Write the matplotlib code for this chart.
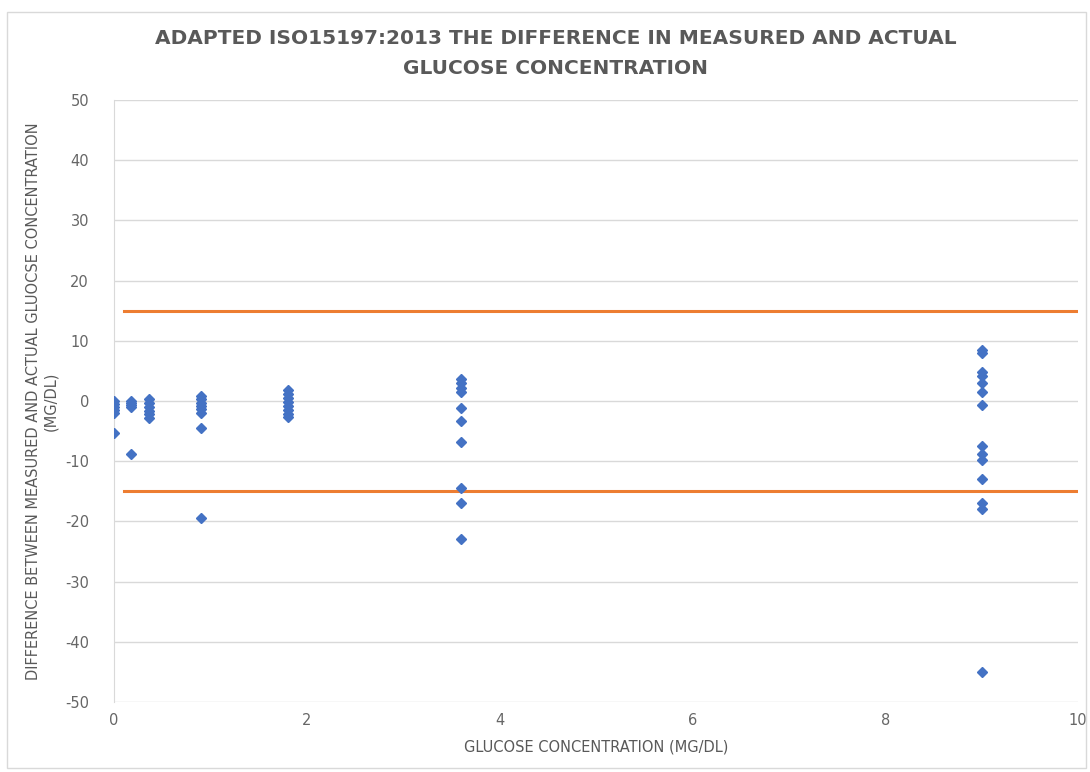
import matplotlib.pyplot as plt
from matplotlib.patches import Rectangle

# glucose concentration groups and measured differences (mg/dl)
x_groups = [0.0, 0.18, 0.36, 0.9, 1.8, 3.6, 9.0]
diff_values = [
    [0.0, -0.5, -1.0, -1.5, -2.0, -5.3],
    [0.0, -0.3, -0.6, -1.0, -8.8],
    [0.3, -0.3, -1.0, -1.6, -2.2, -2.8],
    [0.8, 0.3, -0.3, -0.8, -1.4, -2.0, -4.5, -19.4],
    [1.8, 1.2, 0.5, -0.2, -0.8, -1.5, -2.1, -2.7],
    [3.6, 3.0, 2.2, 1.5, -1.2, -3.4, -6.8, -14.4, -17.0, -22.9],
    [8.5, 8.0, 4.8, 4.2, 3.0, 1.5, -0.6, -7.4, -8.8, -9.8, -12.9, -16.9, -17.9, -45.0],
]
limit_x = [0.1, 10]
upper_limit = 15
lower_limit = -15

plt.rcParams['font.family'] = ['Liberation Sans Narrow', 'DejaVu Sans']
plt.rcParams['axes.unicode_minus'] = False
grey = '#595959'

fig = plt.figure(figsize=(10.9, 7.72), dpi=100)
fig.patches.append(Rectangle((0.006, 0.005), 0.99, 0.98, transform=fig.transFigure,
                             fill=False, edgecolor='#d9d9d9', linewidth=1))
ax = fig.add_axes([0.1046, 0.0907, 0.8844, 0.7798])

for x, vals in zip(x_groups, diff_values):
    ax.plot([x] * len(vals), vals, 'D', color='#4472C4', markersize=5.5, zorder=3)

ax.plot(limit_x, [upper_limit, upper_limit], color='#ED7D31', linewidth=2.2, zorder=2)
ax.plot(limit_x, [lower_limit, lower_limit], color='#ED7D31', linewidth=2.2, zorder=2)

ax.set_xlim(0, 10)
ax.set_ylim(-50, 50)
ax.set_xticks([0, 2, 4, 6, 8, 10])
ax.set_yticks(range(-50, 51, 10))
ax.grid(axis='y', color='#d9d9d9', linewidth=1)
ax.set_axisbelow(True)
for s in ['top', 'right', 'bottom']:
    ax.spines[s].set_visible(False)
ax.spines['left'].set_color('#d9d9d9')
ax.tick_params(axis='y', length=0, labelsize=10.5, colors='#666666', pad=18)
ax.tick_params(axis='x', length=0, labelsize=10.5, colors='#666666', pad=8)

ax.set_xlabel('GLUCOSE CONCENTRATION (MG/DL)', fontsize=10.5, color=grey, labelpad=8)
ax.set_ylabel('DIFFERENCE BETWEEN MEASURED AND ACTUAL GLUOCSE CONCENTRATION\n(MG/DL)',
              fontsize=10.5, color=grey)
ax.yaxis.set_label_coords(-0.058, 0.5)
fig.suptitle('ADAPTED ISO15197:2013 THE DIFFERENCE IN MEASURED AND ACTUAL\nGLUCOSE CONCENTRATION',
             fontsize=14.5, fontweight='bold', color=grey, x=0.51, y=0.963, linespacing=1.75)

fig.savefig('out.png', dpi=100)
